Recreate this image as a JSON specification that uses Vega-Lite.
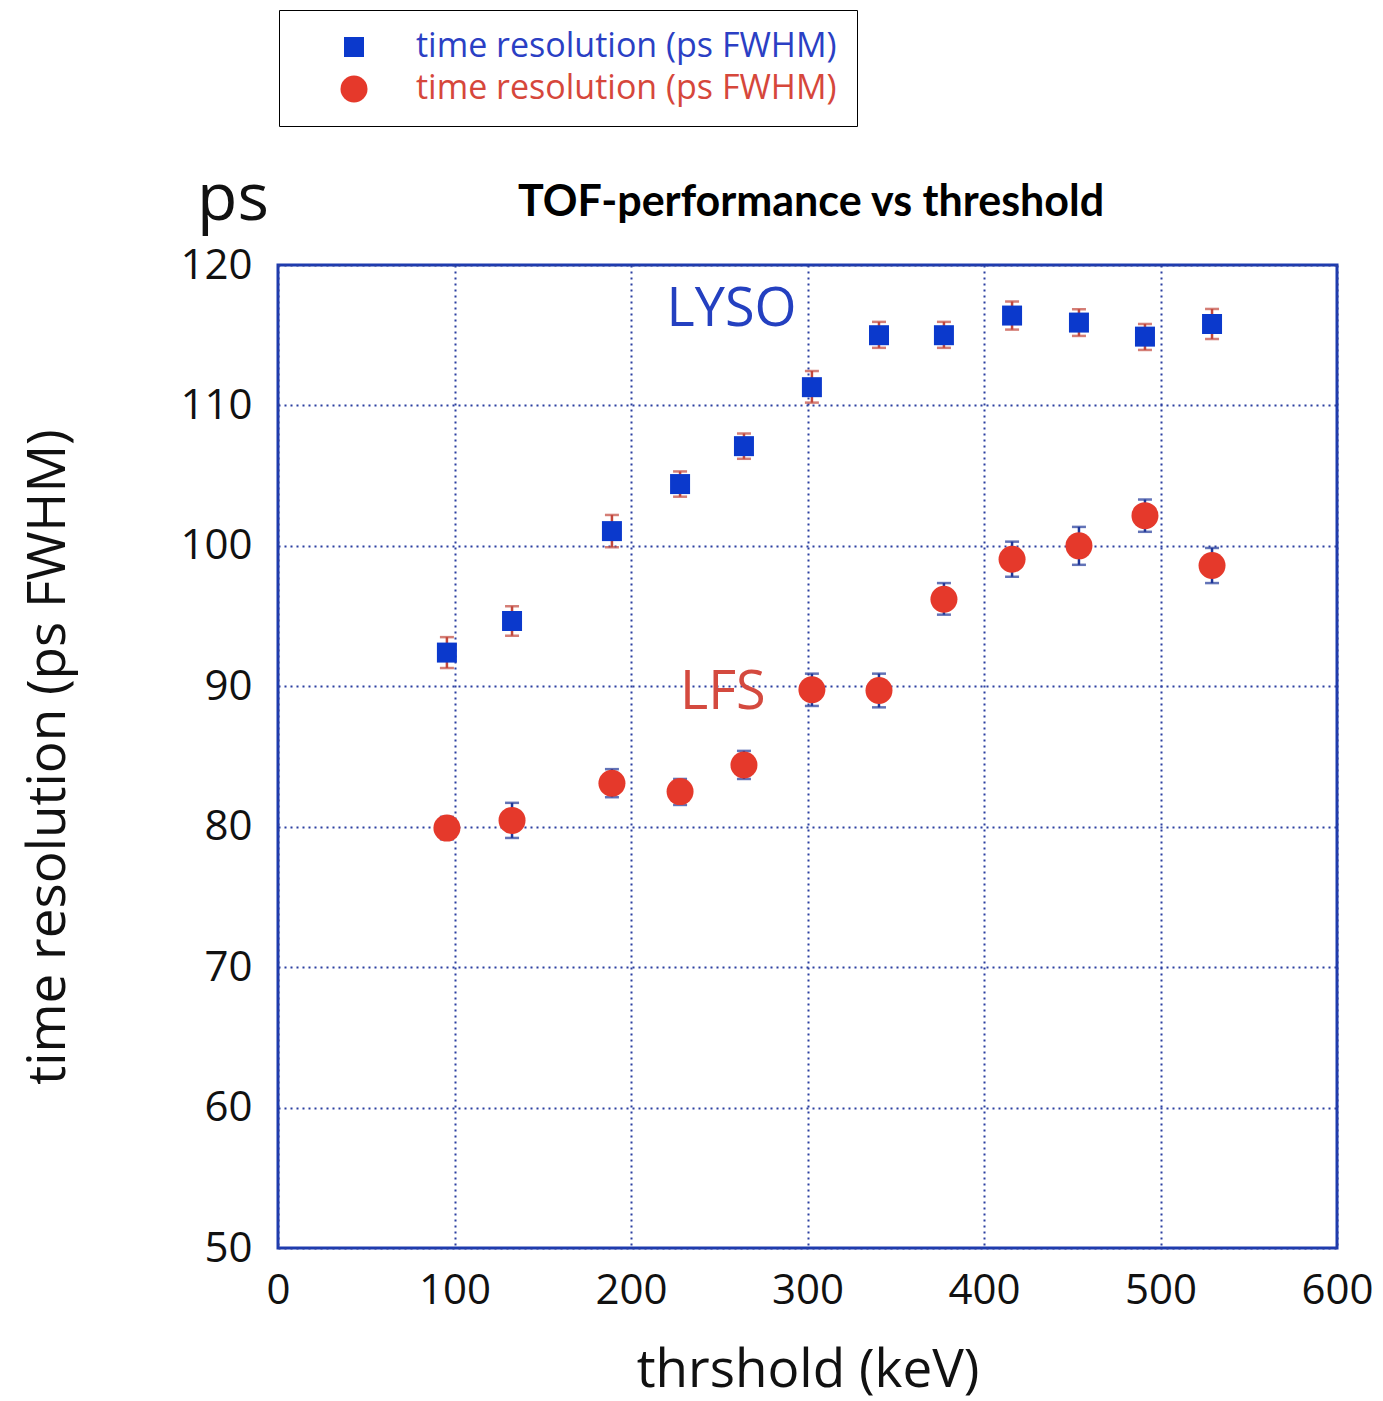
{
  "$schema": "https://vega.github.io/schema/vega-lite/v6.json",
  "width": 1059,
  "height": 983,
  "autosize": {"type": "none"},
  "padding": {"left": 278, "top": 265, "right": 46, "bottom": 153},
  "background": "white",
  "config": {
    "view": {"stroke": "#1c3bb0", "strokeWidth": 3},
    "font": "Open Sans",
    "axis": {
      "grid": true,
      "gridDash": [2, 4],
      "gridColor": "#2b3fa0",
      "gridWidth": 2,
      "gridOpacity": 1,
      "ticks": false,
      "domain": false,
      "labelFontSize": 42,
      "labelColor": "#111111",
      "labelFont": "Open Sans",
      "titleFont": "Open Sans",
      "titleFontSize": 53,
      "titleFontWeight": "normal",
      "titleColor": "#111111",
      "labelFlush": false
    }
  },
  "datasets": {
    "pts": [
      {"series": "LYSO", "x": 95.7, "y": 92.4, "lo": 91.3, "hi": 93.5},
      {"series": "LYSO", "x": 132.6, "y": 94.65, "lo": 93.6, "hi": 95.7},
      {"series": "LYSO", "x": 189.2, "y": 101.05, "lo": 99.9, "hi": 102.2},
      {"series": "LYSO", "x": 227.8, "y": 104.4, "lo": 103.5, "hi": 105.3},
      {"series": "LYSO", "x": 264.0, "y": 107.1, "lo": 106.2, "hi": 108.0},
      {"series": "LYSO", "x": 302.5, "y": 111.3, "lo": 110.2, "hi": 112.45},
      {"series": "LYSO", "x": 340.5, "y": 115.0, "lo": 114.1, "hi": 115.95},
      {"series": "LYSO", "x": 377.3, "y": 115.0, "lo": 114.1, "hi": 115.95},
      {"series": "LYSO", "x": 415.9, "y": 116.4, "lo": 115.4, "hi": 117.4},
      {"series": "LYSO", "x": 453.8, "y": 115.9, "lo": 114.95, "hi": 116.85},
      {"series": "LYSO", "x": 491.2, "y": 114.9, "lo": 113.95, "hi": 115.8},
      {"series": "LYSO", "x": 529.2, "y": 115.8, "lo": 114.73, "hi": 116.87},
      {"series": "LFS", "x": 95.7, "y": 79.9, "lo": 79.1, "hi": 80.7},
      {"series": "LFS", "x": 132.6, "y": 80.45, "lo": 79.2, "hi": 81.7},
      {"series": "LFS", "x": 189.2, "y": 83.1, "lo": 82.1, "hi": 84.1},
      {"series": "LFS", "x": 227.8, "y": 82.5, "lo": 81.55, "hi": 83.4},
      {"series": "LFS", "x": 264.0, "y": 84.4, "lo": 83.4, "hi": 85.4},
      {"series": "LFS", "x": 302.5, "y": 89.75, "lo": 88.6, "hi": 90.9},
      {"series": "LFS", "x": 340.5, "y": 89.7, "lo": 88.5, "hi": 90.9},
      {"series": "LFS", "x": 377.3, "y": 96.2, "lo": 95.1, "hi": 97.35},
      {"series": "LFS", "x": 415.9, "y": 99.05, "lo": 97.8, "hi": 100.3},
      {"series": "LFS", "x": 453.8, "y": 100.0, "lo": 98.65, "hi": 101.35},
      {"series": "LFS", "x": 491.2, "y": 102.15, "lo": 101.0, "hi": 103.3},
      {"series": "LFS", "x": 529.2, "y": 98.6, "lo": 97.35, "hi": 99.85}
    ],
    "labels": [
      {"label": "LYSO", "x": 257, "y": 116.8, "series": "LYSO"},
      {"label": "LFS", "x": 252, "y": 89.5, "series": "LFS"}
    ],
    "psunit": [
      {"label": "ps", "x": -25.5, "y": 124.6}
    ],
    "heading": [
      {"label": "TOF-performance vs threshold", "x": 302, "y": 124.4}
    ]
  },
  "encoding": {
    "x": {
      "field": "x",
      "type": "quantitative",
      "scale": {"domain": [0, 600], "nice": false},
      "axis": {"title": "thrshold (keV)", "values": [0, 100, 200, 300, 400, 500, 600], "labelPadding": 22, "titlePadding": 33}
    },
    "y": {
      "field": "y",
      "type": "quantitative",
      "scale": {"domain": [50, 120], "nice": false},
      "axis": {"title": "time resolution (ps FWHM)", "values": [50, 60, 70, 80, 90, 100, 110, 120], "labelPadding": 26, "titlePadding": 104}
    }
  },
  "layer": [
    {
      "data": {"name": "pts"},
      "mark": {"type": "rule", "strokeWidth": 2.5},
      "encoding": {
        "y": {"field": "lo", "type": "quantitative"},
        "y2": {"field": "hi"},
        "color": {"condition": {"test": "datum.series === 'LYSO'", "value": "#c2473c"}, "value": "#1f3799"}
      }
    },
    {
      "data": {"name": "pts"},
      "mark": {"type": "tick", "orient": "horizontal", "thickness": 2.5, "size": 14},
      "encoding": {
        "y": {"field": "lo", "type": "quantitative"},
        "color": {"condition": {"test": "datum.series === 'LYSO'", "value": "#c2473c"}, "value": "#1f3799"}
      }
    },
    {
      "data": {"name": "pts"},
      "mark": {"type": "tick", "orient": "horizontal", "thickness": 2.5, "size": 14},
      "encoding": {
        "y": {"field": "hi", "type": "quantitative"},
        "color": {"condition": {"test": "datum.series === 'LYSO'", "value": "#c2473c"}, "value": "#1f3799"}
      }
    },
    {
      "data": {"name": "pts"},
      "mark": {"type": "point", "filled": true, "opacity": 1},
      "encoding": {
        "color": {
          "field": "series",
          "type": "nominal",
          "scale": {"domain": ["LYSO", "LFS"], "range": ["#0b39cc", "#e5392b"]},
          "legend": {
            "orient": "none",
            "legendX": 1,
            "legendY": -255,
            "title": null,
            "strokeColor": "#000000",
            "fillColor": "#ffffff",
            "padding": 20,
            "symbolOffset": 38,
            "labelOffset": 45,
            "labelFontSize": 34,
            "labelFont": "Open Sans",
            "labelLimit": 600,
            "symbolSize": 450,
            "rowPadding": 8,
            "labelExpr": "'time resolution (ps FWHM)'",
            "labelColor": {"expr": "datum.value === 'LYSO' ? '#2b3fc4' : '#d6473b'"},
            "encode": {
              "legend": {"update": {"strokeWidth": {"value": 2}}}
            }
          }
        },
        "shape": {
          "field": "series",
          "type": "nominal",
          "scale": {"domain": ["LYSO", "LFS"], "range": ["square", "circle"]}
        },
        "size": {
          "field": "series",
          "type": "nominal",
          "scale": {"domain": ["LYSO", "LFS"], "range": [400, 729]},
          "legend": null
        }
      }
    },
    {
      "data": {"name": "labels"},
      "mark": {"type": "text", "fontSize": 54, "font": "Open Sans", "align": "center", "baseline": "middle"},
      "encoding": {
        "text": {"field": "label"},
        "color": {"condition": {"test": "datum.series === 'LYSO'", "value": "#2440c0"}, "value": "#d44a3f"}
      }
    },
    {
      "data": {"name": "psunit"},
      "mark": {"type": "text", "fontSize": 66, "font": "Open Sans", "align": "center", "baseline": "middle", "color": "#111111"},
      "encoding": {
        "text": {"field": "label"}
      }
    },
    {
      "data": {"name": "heading"},
      "mark": {"type": "text", "fontSize": 43, "font": "Lato", "fontWeight": "bold", "align": "center", "baseline": "middle", "color": "#000000"},
      "encoding": {
        "text": {"field": "label"}
      }
    }
  ]
}
